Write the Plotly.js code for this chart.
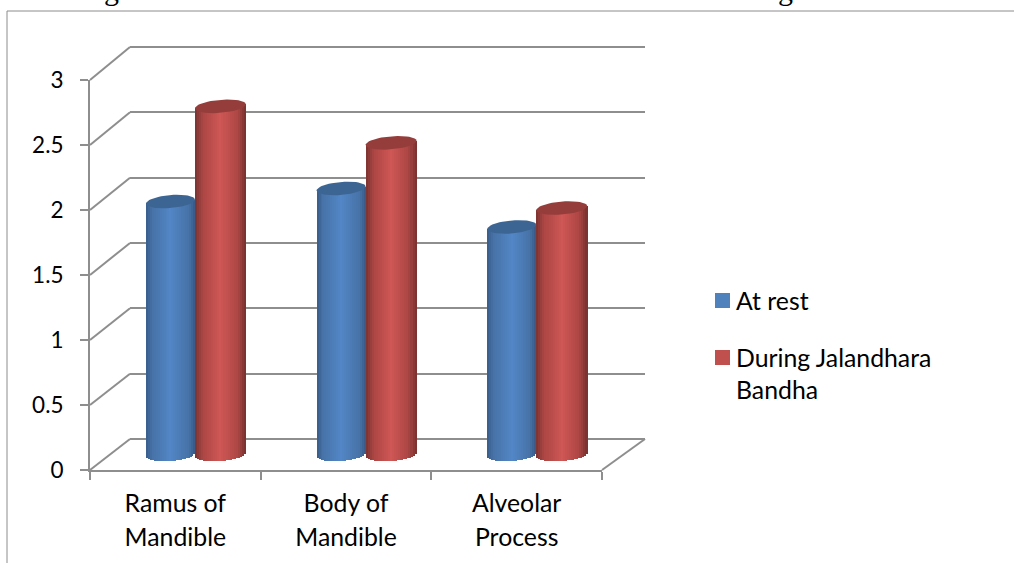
<!DOCTYPE html>
<html><head><meta charset="utf-8">
<script src="https://cdn.plot.ly/plotly-3.0.1.min.js"></script>
<style>html,body{margin:0;padding:0;background:#fff}</style>
</head><body><div id="chart" style="width:1014px;height:563px"></div>
<script>
const categories = ["Ramus of Mandible", "Body of Mandible", "Alveolar Process"];
const categoryLines = [["Ramus of","Mandible"],["Body of","Mandible"],["Alveolar","Process"]];
const atRest = [1.94, 2.04, 1.745];
const duringBandha = [2.67, 2.39, 1.89];
const yTicks = [0, 0.5, 1, 1.5, 2, 2.5, 3];
const yTickLabels = ["0", "0.5", "1", "1.5", "2", "2.5", "3"];
const seriesNames = ["At rest", "During Jalandhara<br>Bandha"];

const W = 1014, H = 563;
const FONT = "Lato, Carlito, sans-serif";
const TXT = 24.8;
const GRID = "#8e8e8e";
const fx = p => p / W, fy = p => 1 - p / H;
const dx = (a, b) => [fx(a), fx(b)];
const dy = (top, bottom) => [fy(bottom), fy(top)];
const sized = s => `<span style="font-size:${TXT}px">${s}</span>`;

const idx = categories.map((_, i) => i);
const PX_X = 512 / 3, PX_Y = 130.4;
const capB = 6.5 / PX_Y, capK = 2 / PX_Y;
const STRIPS = 25;

function mix(a, b, t) { return a.map((v, i) => Math.round(v + (b[i] - v) * t)); }
function ramp(stops, u) {
  for (let i = 1; i < stops.length; i++) {
    if (u <= stops[i][0]) {
      const t = (u - stops[i-1][0]) / (stops[i][0] - stops[i-1][0]);
      return "rgb(" + mix(stops[i-1][1], stops[i][1], t).join(",") + ")";
    }
  }
  return "rgb(" + stops[stops.length-1][1].join(",") + ")";
}
const blueRamp = [[0,[56,92,138]],[0.12,[70,114,166]],[0.5,[82,134,198]],[0.88,[70,114,166]],[1,[54,88,132]]];
const redRamp  = [[0,[122,50,48]],[0.16,[172,70,68]],[0.5,[207,87,85]],[0.84,[172,70,68]],[1,[118,48,46]]];

const traces = [];
// invisible anchors so the back wall and the front axes are drawn
traces.push({type:"scatter", x:[0], y:[0], xaxis:"x", yaxis:"y", mode:"markers", marker:{opacity:0}, showlegend:false, hoverinfo:"skip"});
traces.push({type:"bar", x:categories, y:categories.map(()=>0), xaxis:"x2", yaxis:"y2", marker:{opacity:0}, showlegend:false, hoverinfo:"skip"});

function cylinder(name, values, start, width, rampStops, capColor) {
  for (let s = 0; s < STRIPS; s++) {
    const uL = s / STRIPS, uM = (s + 0.5) / STRIPS;
    const n = 2 * uM - 1;
    const tilt = capK * n;
    const sag = capB * Math.sqrt(Math.max(0, 1 - n * n));
    const base = values.map(() => tilt - sag);
    traces.push({
      type:"bar", name, x:idx, y:values.map(v => v + sag), base,
      xaxis:"x3", yaxis:"y3",
      offset: start + uL * width, width: width / STRIPS * 1.25,
      marker:{color: ramp(rampStops, uM), line:{width:0}},
      showlegend:false, hoverinfo:"skip"
    });
  }
  values.forEach((v, i) => {
    const xs = [], ys = [];
    for (let a = 0; a <= 48; a++) {
      const t = a / 48 * 2 * Math.PI;
      xs.push(i + start + width / 2 + width / 2 * Math.cos(t));
      ys.push(v + capB * Math.sin(t) + capK * Math.cos(t));
    }
    traces.push({type:"scatter", name, x:xs, y:ys, xaxis:"x3", yaxis:"y3", mode:"lines",
      fill:"toself", fillcolor:capColor, line:{width:0, color:capColor}, showlegend:false, hoverinfo:"skip"});
  });
}
cylinder("At rest", atRest, -49 / PX_X, 49 / PX_X, blueRamp, "#3d6593");
cylinder("During Jalandhara Bandha", duringBandha, 0, 51 / PX_X, redRamp, "#953d3b");

// slanted connectors between the front axis and the back wall
const yFront = v => 470 - v * 130;
const yBack  = v => 439 - v * 130.67;
const line = (x0,y0,x1,y1,color,w) => ({type:"line", xref:"paper", yref:"paper", x0:fx(x0), y0:fy(y0), x1:fx(x1), y1:fy(y1), line:{color:color||GRID, width:w||2}, layer:"below"});
const shapes = yTicks.map(v => line(90, yFront(v), 130, yBack(v)));
shapes.push(line(602, 470, 645, 439));
// outer chart frame
shapes.push(line(7, 11, 1014, 11, "#8c8c8c", 1), line(7, 11, 7, 563, "#8c8c8c", 1));
// key swatches
const box = (y, c) => ({type:"rect", xref:"paper", yref:"paper", x0:fx(715), x1:fx(730), y0:fy(y+15), y1:fy(y), fillcolor:c, line:{width:0}});
shapes.push(box(293, "#4f81bd"), box(350, "#c0504d"));

const legendText = (text, yTop) => ({xref:"paper", yref:"paper", x:fx(734.5), y:fy(yTop), xanchor:"left", yanchor:"top", align:"left",
  showarrow:false, text, font:{family:FONT, size:TXT, color:"#000"}, borderpad:0});
const clipped = x => ({xref:"paper", yref:"paper", x:fx(x), y:fy(-10), xanchor:"center", yanchor:"middle", showarrow:false, text:"g", font:{family:"Liberation Serif", size:30, color:"#000"}});

const padY = 0.1 * 130.67;
const layout = {
  width:W, height:H, margin:{l:0,r:0,t:0,b:0,pad:0},
  paper_bgcolor:"#fff", plot_bgcolor:"rgba(0,0,0,0)", showlegend:false, barmode:"overlay", bargap:0,
  xaxis:{domain:dx(130,645), range:[0,1], anchor:"y", visible:false, fixedrange:true},
  yaxis:{domain:dy(47-padY,439+padY), range:[-0.1,3.1], anchor:"x", tickvals:yTicks, showgrid:true, gridcolor:GRID, gridwidth:2, zeroline:false, showline:false, showticklabels:false, ticks:"", fixedrange:true},
  xaxis2:{domain:dx(90,602), anchor:"y2", type:"category", categoryarray:categories, categoryorder:"array",
    tickson:"boundaries", ticks:"outside", ticklen:8, tickwidth:2, tickcolor:GRID,
    tickvals:categories, ticktext:categoryLines.map(l => l.map(sized).join("<br>")),
    showline:true, linecolor:GRID, linewidth:2, showgrid:false, zeroline:false, ticklabelstandoff:9,
    tickfont:{family:FONT, size:26, color:"#000"}, tickangle:0, fixedrange:true},
  yaxis2:{domain:dy(80,470), range:[0,3], anchor:"x2", tickvals:yTicks, ticktext:yTickLabels,
    ticks:"outside", ticklen:8, tickwidth:2, tickcolor:GRID, showline:true, linecolor:GRID, linewidth:2,
    showgrid:false, zeroline:false, ticklabelstandoff:12, tickfont:{family:FONT, size:22.5, color:"#000"}, fixedrange:true},
  xaxis3:{domain:dx(109.6,621.6), range:[-0.5,2.5], anchor:"y3", visible:false, fixedrange:true},
  yaxis3:{domain:dy(454.5-3*PX_Y, 454.5+0.2*PX_Y), range:[-0.2,3], anchor:"x3", visible:false, fixedrange:true},
  shapes,
  annotations:[
    legendText(seriesNames[0], 285),
    legendText(seriesNames[1], 342),
    clipped(111), clipped(785)
  ]
};
Plotly.newPlot("chart", traces, layout, {displayModeBar:false, staticPlot:true});
</script></body></html>
